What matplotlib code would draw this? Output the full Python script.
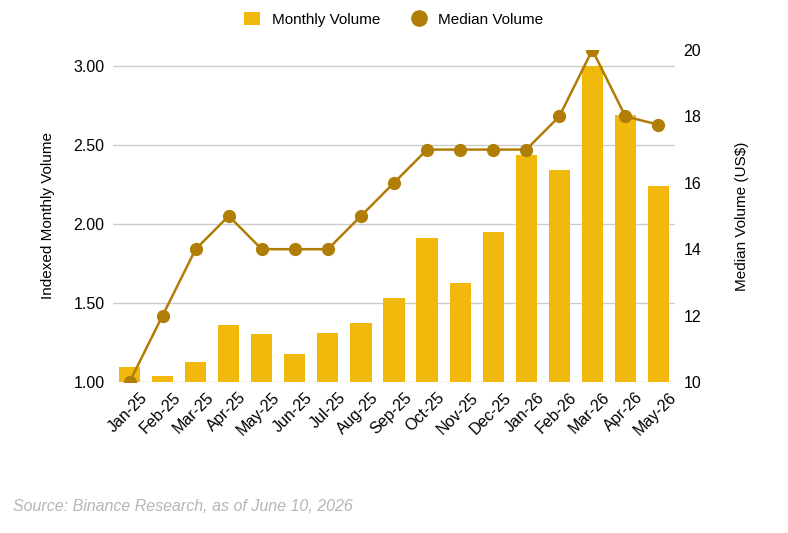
import matplotlib
matplotlib.use("Agg")
import matplotlib.pyplot as plt
import matplotlib.transforms as mtransforms
from matplotlib.lines import Line2D
from matplotlib.patches import Patch

plt.rcParams['font.family'] = ['Liberation Sans', 'DejaVu Sans']

months = ['Jan-25', 'Feb-25', 'Mar-25', 'Apr-25', 'May-25', 'Jun-25', 'Jul-25', 'Aug-25',
          'Sep-25', 'Oct-25', 'Nov-25', 'Dec-25', 'Jan-26', 'Feb-26', 'Mar-26', 'Apr-26', 'May-26']
monthly_volume = [1.095, 1.04, 1.127, 1.36, 1.304, 1.18, 1.31, 1.373,
                  1.53, 1.91, 1.627, 1.95, 2.437, 2.34, 3.00, 2.69, 2.24]
median_volume = [10, 12, 14, 15, 14, 14, 14, 15, 16, 17, 17, 17, 17, 18, 20, 18, 17.75]

bar_color = '#F0B90B'
line_color = '#B07D06'

fig = plt.figure(figsize=(7.88, 5.33), dpi=100)
fig.patch.set_facecolor('white')
ax = fig.add_axes([0.1434, 0.2833, 0.7132, 0.6229])
ax2 = ax.twinx()

x = list(range(len(months)))
ax.bar(x, monthly_volume, width=0.64, color=bar_color, zorder=2)
ax.set_ylim(1.0, 3.1)
ax.set_xlim(-0.5, len(months) - 0.5)
ax.set_yticks([1.0, 1.5, 2.0, 2.5, 3.0])
ax.set_yticklabels([f'{v:.2f}' for v in [1.0, 1.5, 2.0, 2.5, 3.0]])
ax.grid(axis='y', color='#cccccc', linewidth=1, zorder=0)
ax.set_axisbelow(True)
ax.set_xticks(x)
ax.set_xticklabels([])

# rotated month labels, nudged right of the bar centre like the original
shift = mtransforms.ScaledTranslation(0.10, -0.08, fig.dpi_scale_trans)
for xi, m in zip(x, months):
    ax.text(xi, 0, m, transform=ax.get_xaxis_transform() + shift,
            rotation=45, ha='right', va='top', rotation_mode='anchor', fontsize=11.5)
ax.set_ylabel('Indexed Monthly Volume', fontsize=11, labelpad=13)

ax2.plot(x, median_volume, color=line_color, linewidth=1.8, marker='o',
         markersize=8.5, zorder=3)
ax2.set_ylim(10, 20)
ax2.set_yticks([10, 12, 14, 16, 18, 20])
ax2.set_ylabel('Median Volume (US$)', fontsize=11, labelpad=24)

for a in (ax, ax2):
    for s in a.spines.values():
        s.set_visible(False)
    a.tick_params(axis='both', length=0, labelsize=11.5, pad=6)

handles = [Patch(facecolor=bar_color, label='Monthly Volume'),
           Line2D([], [], color=line_color, marker='o', linestyle='none',
                  markersize=11, label='Median Volume')]
fig.legend(handles=handles, loc='center', bbox_to_anchor=(0.5, 0.964), ncol=2,
           frameon=False, fontsize=11, handlelength=1.0, handleheight=1.0,
           columnspacing=2.0, handletextpad=0.8)

fig.text(0.016, 0.049, 'Source: Binance Research, as of June 10, 2026',
         fontsize=11.5, style='italic', color='#b5b5b5', va='center')

fig.savefig('out.png', dpi=100)
